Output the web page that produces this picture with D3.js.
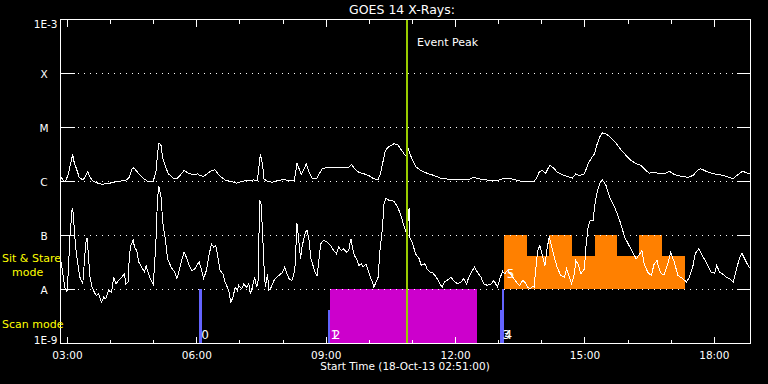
<!DOCTYPE html>
<html><head><meta charset="utf-8">
<script src="https://cdn.jsdelivr.net/npm/d3@7"></script>
<style>html,body{margin:0;padding:0;background:#000;} svg{display:block;}</style>
</head><body>
<svg id="chart" width="768" height="384"></svg>
<script>
// ---------------- data ----------------
const DAY = "2013-10-18 ";
const startTime = "02:51", endTime = "18:51";
const titleText = "GOES 14 X-Rays:";
const xAxisTitle = "Start Time (18-Oct-13 02:51:00)";
const yTickValues = [1e-9, 1e-3];
const yTickLabels = ["1E-9", "1E-3"];
const classValues = [1e-8, 1e-7, 1e-6, 1e-5, 1e-4];
const classLabels = ["A", "B", "C", "M", "X"];

// GOES long channel (1-8 A)
const longTimes = [
"02:52","02:55","02:58","03:02","03:05","03:08","03:10","03:14","03:17","03:22",
"03:25","03:29","03:31","03:35","03:41","03:48","03:58","04:05","04:12","04:19",
"04:23","04:27","04:30","04:33","04:37","04:42","04:47","04:50","04:52","05:00",
"05:04","05:06","05:08","05:11","05:13","05:17","05:21","05:28","05:33","05:38",
"05:43","05:49","05:56","06:02","06:05","06:10","06:15","06:21","06:26","06:30",
"06:35","06:40","06:47","06:52","06:56","07:02","07:11","07:20","07:25","07:27",
"07:29","07:32","07:34","07:39","07:46","07:53","08:02","08:09","08:16","08:18",
"08:20","08:23","08:26","08:30","08:33","08:37","08:41","08:47","08:51","08:55",
"09:02","09:11","09:21","09:32","09:36","09:40","09:46","09:53","10:00","10:07",
"10:13","10:16","10:20","10:23","10:28","10:35","10:40","10:44","10:49","10:52",
"10:54","10:57","11:01","11:05","11:12","11:21","11:31","11:40","11:54","12:08",
"12:19","12:26","12:33","12:43","12:52","12:59","13:06","13:13","13:22","13:31",
"13:41","13:50","13:54","13:57","14:01","14:06","14:09","14:12","14:17","14:22",
"14:29","14:36","14:43","14:48","14:53","15:00","15:05","15:09","15:14","15:17",
"15:21","15:25","15:30","15:37","15:44","15:51","15:58","16:05","16:12","16:19",
"16:23","16:30","16:37","16:44","16:51","16:58","17:05","17:14","17:24","17:31",
"17:38","17:42","17:49","17:59","18:08","18:17","18:27","18:33","18:40","18:47","18:51"];
const longFlux = [
1.2e-6,1.04e-6,1.0e-6,1.39e-6,2.13e-6,3.16e-6,2.28e-6,1.6e-6,1.2e-6,1.07e-6,
1.2e-6,1.53e-6,1.29e-6,1.04e-6,9.5e-7,8.9e-7,9.2e-7,9.7e-7,1.0e-6,1.04e-6,
1.07e-6,1.2e-6,1.67e-6,1.79e-6,1.55e-6,1.29e-6,1.12e-6,1.07e-6,1.01e-6,1.0e-6,
1.6e-6,3.26e-6,5.21e-6,4.64e-6,2.82e-6,1.9e-6,1.39e-6,1.15e-6,1.12e-6,1.33e-6,
1.6e-6,1.42e-6,1.33e-6,1.39e-6,1.29e-6,1.24e-6,1.39e-6,1.6e-6,1.65e-6,1.39e-6,
1.2e-6,1.07e-6,1.0e-6,9.7e-7,9.3e-7,1.0e-6,1.04e-6,1.07e-6,1.04e-6,1.84e-6,
3.16e-6,2.13e-6,1.12e-6,1.0e-6,9.7e-7,1.04e-6,1.09e-6,1.04e-6,1.04e-6,1.39e-6,
2.22e-6,1.72e-6,1.35e-6,1.72e-6,2.13e-6,1.49e-6,1.15e-6,1.12e-6,1.39e-6,1.72e-6,
1.84e-6,1.79e-6,1.84e-6,1.84e-6,2.07e-6,1.72e-6,1.49e-6,1.39e-6,1.29e-6,1.12e-6,
1.09e-6,1.39e-6,2.45e-6,3.75e-6,4.45e-6,4.99e-6,4.84e-6,4.03e-6,3.26e-6,2.9e-6,
4.32e-6,3.26e-6,2.45e-6,1.9e-6,1.6e-6,1.42e-6,1.29e-6,1.15e-6,1.09e-6,1.07e-6,
1.09e-6,1.2e-6,1.12e-6,1.07e-6,1.04e-6,1.04e-6,1.12e-6,1.15e-6,1.09e-6,1.01e-6,
1.0e-6,1.0e-6,1.2e-6,1.49e-6,1.6e-6,1.42e-6,1.72e-6,1.98e-6,1.79e-6,1.49e-6,
1.33e-6,1.24e-6,1.15e-6,1.39e-6,1.29e-6,1.39e-6,2.13e-6,2.63e-6,3.26e-6,4.64e-6,
6.6e-6,7.97e-6,7.63e-6,6.44e-6,5.12e-6,3.86e-6,3.03e-6,2.45e-6,2.13e-6,1.98e-6,
1.72e-6,1.42e-6,1.49e-6,1.39e-6,1.39e-6,1.55e-6,1.35e-6,1.25e-6,1.2e-6,1.29e-6,
1.65e-6,1.72e-6,1.55e-6,1.39e-6,1.35e-6,1.24e-6,1.12e-6,1.33e-6,1.55e-6,1.42e-6,1.42e-6];

// GOES short channel (0.5-4 A)
const shortTimes = [
"02:52","02:55","02:57","03:00","03:02","03:04","03:07","03:08","03:10","03:12",
"03:15","03:18","03:22","03:24","03:26","03:28","03:30","03:32","03:35","03:38",
"03:41","03:44","03:48","03:51","03:54","03:58","04:02","04:05","04:08","04:12",
"04:16","04:20","04:22","04:25","04:27","04:29","04:32","04:34","04:37","04:40",
"04:44","04:48","04:50","04:52","04:56","05:00","05:02","05:04","05:06","05:08",
"05:11","05:13","05:17","05:20","05:25","05:30","05:33","05:36","05:40","05:43",
"05:47","05:50","05:54","05:58","06:02","06:04","06:07","06:10","06:14","06:17",
"06:21","06:24","06:27","06:30","06:33","06:37","06:40","06:45","06:48","06:51",
"06:54","06:57","06:59","07:03","07:06","07:10","07:13","07:15","07:18","07:21",
"07:24","07:26","07:28","07:30","07:32","07:34","07:36","07:39","07:41","07:44",
"07:48","07:52","07:55","08:00","08:03","08:06","08:09","08:13","08:17","08:19",
"08:20","08:22","08:25","08:27","08:30","08:32","08:34","08:37","08:39","08:43",
"08:46","08:48","08:51","08:53","08:57","09:02","09:07","09:11","09:15","09:18",
"09:22","09:25","09:29","09:32","09:35","09:37","09:40","09:44","09:46","09:50",
"09:52","09:56","09:59","10:02","10:05","10:07","10:09","10:13","10:15","10:19",
"10:21","10:24","10:28","10:35","10:40","10:44","10:48","10:51","10:53","10:56",
"10:57","11:01","11:05","11:10","11:13","11:18","11:21","11:25","11:28","11:32",
"11:35","11:39","11:42","11:45","11:49","11:54","11:58","12:03","12:08","12:12",
"12:16","12:19","12:24","12:27","12:31","12:36","12:40","12:45","12:50","12:54",
"12:59","13:03","13:06","13:09","13:13","13:17","13:22","13:27","13:30","13:34",
"13:37","13:41","13:44","13:48","13:50","13:52","13:55","13:58","14:01","14:05",
"14:08","14:11","14:14","14:18","14:22","14:27","14:32","14:35","14:39","14:42",
"14:46","14:48","14:52","14:55","15:00","15:02","15:05","15:08","15:12","15:14",
"15:17","15:21","15:25","15:30","15:35","15:42","15:49","15:56","16:02","16:07",
"16:12","16:17","16:20","16:23","16:28","16:33","16:37","16:41","16:43","16:47",
"16:51","16:56","17:00","17:05","17:10","17:17","17:22","17:26","17:31","17:34",
"17:39","17:44","17:48","17:53","17:56","18:01","18:04","18:08","18:12","18:17",
"18:22","18:27","18:31","18:36","18:39","18:44","18:49","18:51"];
const shortFlux = [
3.2e-8,1.69e-8,1.1e-8,8.9e-9,2.25e-8,9.3e-8,2.9e-7,3.26e-7,1.42e-7,6.1e-8,
2.99e-8,1.69e-8,1.27e-8,2.99e-8,7.0e-8,9.1e-8,3.96e-8,1.69e-8,1.1e-8,8.9e-9,
7.7e-9,8.3e-9,5.8e-9,7.2e-9,6.7e-9,9.6e-9,8.9e-9,1.69e-8,1.27e-8,1.47e-8,
1.69e-8,1.95e-8,1.27e-8,1.37e-8,4.58e-8,6.53e-8,8.3e-8,6.1e-8,5.28e-8,3.2e-8,
2.59e-8,2.09e-8,2.78e-8,2.25e-8,1.58e-8,1.24e-8,2.99e-8,9.3e-8,5.12e-7,8.08e-7,
5.12e-7,1.9e-7,8.1e-8,3.7e-8,2.59e-8,2.09e-8,1.58e-8,2.25e-8,3.7e-8,4.9e-8,
3.7e-8,2.78e-8,2.25e-8,2.42e-8,2.99e-8,3.2e-8,2.42e-8,1.58e-8,2.25e-8,3.96e-8,
7.0e-8,6.1e-8,6.53e-8,3.96e-8,2.25e-8,1.95e-8,1.37e-8,9.6e-9,5.8e-9,7.2e-9,
1.1e-8,9.6e-9,1.19e-8,1.03e-8,1.27e-8,1.1e-8,1.27e-8,8.3e-9,1.1e-8,1.69e-8,
1.1e-8,1.47e-8,4.45e-7,3.86e-7,1.24e-7,2.99e-8,1.1e-8,1.95e-8,9.6e-9,1.1e-8,
1.47e-8,1.69e-8,1.82e-8,2.09e-8,2.59e-8,1.95e-8,1.58e-8,1.47e-8,2.25e-8,8.1e-8,
1.69e-7,9.3e-8,3.7e-8,6.1e-8,9.3e-8,1.15e-7,1.27e-7,8.1e-8,3.96e-8,2.59e-8,
1.95e-8,1.82e-8,3.96e-8,7.0e-8,8.1e-8,7.5e-8,6.53e-8,5.28e-8,4.58e-8,6.1e-8,
5.28e-8,5.67e-8,4.9e-8,5.28e-8,8.7e-8,6.1e-8,4.26e-8,3.44e-8,2.78e-8,2.99e-8,
2.59e-8,2.99e-8,2.25e-8,1.69e-8,1.37e-8,1.1e-8,1.27e-8,1.69e-8,4.58e-8,1.42e-7,
3.86e-7,4.9e-7,4.45e-7,4.32e-7,3.34e-7,2.52e-7,1.65e-7,1.24e-7,1.07e-7,3.26e-7,
9.3e-8,7.0e-8,4.58e-8,3.7e-8,2.78e-8,2.99e-8,2.42e-8,2.09e-8,2.09e-8,1.82e-8,
1.58e-8,1.27e-8,1.1e-8,1.37e-8,1.47e-8,1.69e-8,1.47e-8,1.27e-8,1.37e-8,1.58e-8,
1.27e-8,1.69e-8,2.25e-8,2.59e-8,2.09e-8,1.69e-8,1.27e-8,1.19e-8,1.27e-8,1.47e-8,
1.1e-8,1.69e-8,2.18e-8,1.95e-8,2.25e-8,1.95e-8,1.58e-8,1.27e-8,1.19e-8,1.47e-8,
1.37e-8,1.1e-8,1.03e-8,1.14e-8,1.1e-8,2.25e-8,5.28e-8,6.53e-8,4.58e-8,2.78e-8,
5.67e-8,9.58e-8,6.53e-8,3.96e-8,2.59e-8,1.82e-8,1.69e-8,2.42e-8,1.69e-8,1.27e-8,
1.95e-8,3.44e-8,2.78e-8,1.95e-8,2.42e-8,6.1e-8,1.42e-7,1.9e-7,1.9e-7,3.34e-7,
5.92e-7,9.06e-7,1.07e-6,8.43e-7,5.12e-7,3.34e-7,1.9e-7,9.3e-8,6.53e-8,4.9e-8,
3.7e-8,4.58e-8,5.28e-8,2.99e-8,2.09e-8,1.82e-8,2.99e-8,3.44e-8,2.59e-8,1.95e-8,
1.9e-8,2.99e-8,4.9e-8,3.2e-8,1.82e-8,1.58e-8,1.37e-8,1.69e-8,2.78e-8,4.58e-8,
5.67e-8,4.26e-8,3.44e-8,2.59e-8,2.09e-8,2.0e-8,2.78e-8,2.09e-8,1.95e-8,1.69e-8,
1.58e-8,1.37e-8,2.25e-8,3.96e-8,4.7e-8,3.44e-8,2.59e-8,2.55e-8];

// Scan-mode observations
const scanIds   = ["0", "1", "2", "3", "4"];
const scanStart = ["06:04", "09:04", "09:07", "13:03", "13:06"];
const scanEnd   = ["06:08", "09:07", "12:31", "13:06", "13:09"];
const scanTop   = [1e-8, 4e-9, 1e-8, 4e-9, 1e-8];
const scanKind  = ["short", "short", "long", "short", "short"];
// Sit & Stare observation
const stareId    = "5";
const stareStart = ["13:09","13:41","14:12","14:44","15:15","15:46","16:17","16:49"];
const stareEnd   = ["13:41","14:12","14:44","15:15","15:46","16:17","16:49","17:21"];
const stareTop   = [1e-7, 4e-8, 1e-7, 4e-8, 1e-7, 4e-8, 1e-7, 4e-8];
const stareBase  = 1e-8;
const peakTime = "10:54", peakLabel = "Event Peak";

// ---------------- drawing ----------------
const parse = d3.utcParse("%Y-%m-%d %H:%M");
const T = s => parse(DAY + s);
const svg = d3.select("#chart");
svg.append("rect").attr("width", 768).attr("height", 384).attr("fill", "#000");

const L = 60.5, R = 750.5, TOP = 19.5, BOT = 343.5;
const x = d3.scaleUtc().domain([T(startTime), T(endTime)]).range([L, R]);
const y = d3.scaleLog().domain([1e-9, 1e-3]).range([BOT, TOP]);
const FONT = "DejaVu Sans, sans-serif";
const COL = { short: "#6464ff", long: "#cc00cc", stare: "#ff8000", peak: "#99cc00" };
const px_ = v => Math.floor(v);

// scan bars
svg.append("g").selectAll("rect").data(scanIds).join("rect")
  .attr("x", (d, i) => px_(x(T(scanStart[i]))))
  .attr("width", (d, i) => Math.max(2, px_(x(T(scanEnd[i]))) - px_(x(T(scanStart[i])))))
  .attr("y", (d, i) => px_(y(scanTop[i])))
  .attr("height", (d, i) => px_(BOT) - px_(y(scanTop[i])))
  .attr("fill", (d, i) => COL[scanKind[i]]);

// sit & stare bars
svg.append("g").selectAll("rect").data(stareStart).join("rect")
  .attr("x", (d, i) => px_(x(T(stareStart[i]))))
  .attr("width", (d, i) => px_(x(T(stareEnd[i]))) - px_(x(T(stareStart[i]))))
  .attr("y", (d, i) => px_(y(stareTop[i])))
  .attr("height", (d, i) => px_(y(stareBase)) - px_(y(stareTop[i])))
  .attr("fill", COL.stare);

// class grid lines
const grid = svg.append("g").attr("shape-rendering", "crispEdges");
classValues.forEach(v => {
  const yy = px_(y(v)) + 0.5;
  grid.append("line").attr("x1", L).attr("x2", L + 14).attr("y1", yy).attr("y2", yy).attr("stroke", "#fff");
  grid.append("line").attr("x1", R - 14).attr("x2", R).attr("y1", yy).attr("y2", yy).attr("stroke", "#fff");
  grid.append("line").attr("x1", 78).attr("x2", 734).attr("y1", yy).attr("y2", yy)
    .attr("stroke", "#fff").attr("stroke-dasharray", "1,5");
});

// curves
const line = d3.line().x(d => x(d[0])).y(d => y(d[1]));
const longData = longTimes.map((t, i) => [T(t), longFlux[i]]);
const shortData = shortTimes.map((t, i) => [T(t), shortFlux[i]]);
[longData, shortData].forEach(data => {
  svg.append("path").datum(data).attr("d", line).attr("fill", "none")
    .attr("stroke", "#fff").attr("stroke-width", 1).attr("shape-rendering", "crispEdges");
});

// event peak
const pk = px_(x(T(peakTime)));
svg.append("rect").attr("x", pk - 1).attr("y", px_(TOP)).attr("width", 2).attr("height", px_(BOT) - px_(TOP)).attr("fill", COL.peak);
svg.append("text").attr("x", pk + 10).attr("y", 46).attr("fill", "#fff")
  .attr("font-family", FONT).attr("font-size", 11).text(peakLabel);

// observation labels
svg.append("g").selectAll("text").data(scanIds).join("text")
  .attr("x", (d, i) => x(T(scanStart[i])) + 2).attr("y", BOT - 5)
  .attr("fill", "#fff").attr("font-family", FONT).attr("font-size", 12).text(d => d);
svg.append("text").attr("x", x(T(stareStart[0])) + 2).attr("y", y(stareBase) - 12)
  .attr("fill", "#fff").attr("font-family", FONT).attr("font-size", 12).text(stareId);

// frame
svg.append("rect").attr("x", L).attr("y", TOP).attr("width", R - L).attr("height", BOT - TOP)
  .attr("fill", "none").attr("stroke", "#fff").attr("shape-rendering", "crispEdges");

// time axes
const majorTicks = d3.utcHour.every(3).range(T("03:00"), T(endTime));
const minorTicks = d3.utcHour.every(1).range(T("03:00"), T(endTime));
const bottomMinor = svg.append("g").attr("transform", `translate(0,${BOT})`)
  .call(d3.axisBottom(x).tickValues(minorTicks).tickSize(-4).tickFormat(""));
const bottomMajor = svg.append("g").attr("transform", `translate(0,${BOT})`)
  .call(d3.axisBottom(x).tickValues(majorTicks).tickSize(-7).tickFormat(d3.utcFormat("%H:%M")));
const topMinor = svg.append("g").attr("transform", `translate(0,${TOP})`)
  .call(d3.axisTop(x).tickValues(minorTicks).tickSize(-4).tickFormat(""));
const topMajor = svg.append("g").attr("transform", `translate(0,${TOP})`)
  .call(d3.axisTop(x).tickValues(majorTicks).tickSize(-7).tickFormat(""));
[bottomMinor, bottomMajor, topMinor, topMajor].forEach(g => {
  g.select(".domain").remove();
  g.selectAll("line").attr("stroke", "#fff").attr("shape-rendering", "crispEdges");
});
bottomMajor.selectAll("text").attr("y", 15).attr("dy", null).attr("fill", "#fff")
  .attr("font-family", FONT).attr("font-size", 10.5);

// y axis labels
const yAx = svg.append("g").attr("transform", `translate(${L},0)`)
  .call(d3.axisLeft(y).tickValues(yTickValues).tickSize(0).tickPadding(3)
    .tickFormat((d, i) => yTickLabels[i]));
yAx.select(".domain").remove();
yAx.selectAll("text").attr("fill", "#fff").attr("font-family", FONT).attr("font-size", 10.5)
  .attr("dy", (d) => d === 1e-3 ? "0.72em" : "0em");
svg.append("g").selectAll("text").data(classLabels).join("text")
  .attr("x", 44).attr("y", (d, i) => y(classValues[i]) + 4.5).attr("text-anchor", "middle")
  .attr("fill", "#fff").attr("font-family", FONT).attr("font-size", 10.5).text(d => d);

// mode labels
const modeTxt = [["Sit & Stare", 2, 262], ["mode", 12, 276], ["Scan mode", 2, 328]];
svg.append("g").selectAll("text").data(modeTxt).join("text")
  .attr("x", d => d[1]).attr("y", d => d[2]).attr("fill", "#ffff00")
  .attr("font-family", FONT).attr("font-size", 11).text(d => d[0]);

// titles
svg.append("text").attr("x", 402).attr("y", 14).attr("text-anchor", "middle").attr("fill", "#fff")
  .attr("font-family", FONT).attr("font-size", 12.5).text(titleText);
svg.append("text").attr("x", 405).attr("y", 370).attr("text-anchor", "middle").attr("fill", "#fff")
  .attr("font-family", FONT).attr("font-size", 10.5).text(xAxisTitle);
</script>
</body></html>
